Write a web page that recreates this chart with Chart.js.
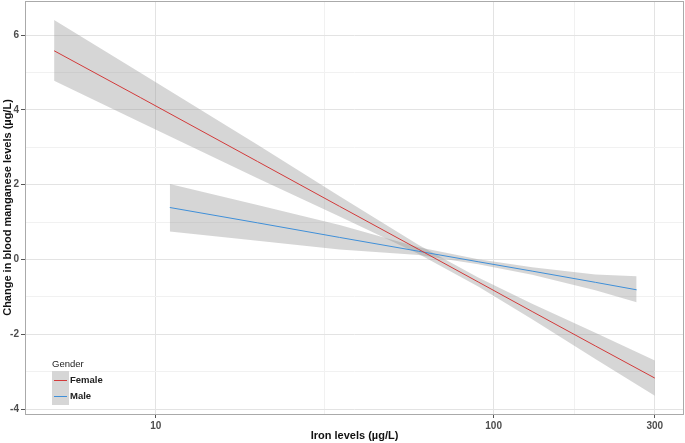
<!DOCTYPE html>
<html>
<head>
<meta charset="utf-8">
<script src="https://cdn.jsdelivr.net/npm/chart.js@4"></script>
<style>
  html, body { margin: 0; padding: 0; background: #fff; }
  #wrap { width: 685px; height: 443px; }
</style>
</head>
<body>
<div id="wrap"><canvas id="myChart" width="685" height="443"></canvas></div>
<script>
// Iron levels (x, log scale) where the fitted lines / bands were read
const femaleIron = [5, 9, 20, 35, 60, 90, 130, 200, 300];
const femaleFit = [5.58, 4.33, 2.62, 1.42, 0.27, -0.60, -1.39, -2.31, -3.17];
const femaleLow = [4.78, 3.67, 2.17, 1.15, 0.15, -0.72, -1.60, -2.66, -3.64];
const femaleHigh = [6.40, 4.99, 3.07, 1.69, 0.39, -0.48, -1.18, -1.96, -2.70];

const maleIron = [11, 20, 35, 60, 90, 130, 200, 265];
const maleFit = [1.39, 0.98, 0.59, 0.22, -0.06, -0.31, -0.61, -0.81];
const maleLow = [0.75, 0.50, 0.27, 0.12, -0.13, -0.41, -0.82, -1.14];
const maleHigh = [2.02, 1.46, 0.92, 0.33, 0.01, -0.21, -0.40, -0.45];

// axis ticks (major get a label, minor only a grid line)
const xMajor = [10, 100, 300];
const xMinor = [31.62, 173.2];
const yMajor = [-4, -2, 0, 2, 4, 6];
const yMinor = [-3, -1, 1, 3, 5];

const femaleColor = '#d23a3a';
const maleColor = '#3f8fd8';
const bandColor = 'rgba(153,153,153,0.4)';

const FONT = "'Liberation Sans', Arial, sans-serif";

const pts = (xs, ys) => xs.map((x, i) => ({ x: x, y: ys[i] }));

Chart.defaults.font.family = FONT;

// panel border and the legend inside the panel, ggplot style
const extras = {
  id: 'extras',
  afterDraw(chart) {
    const c = chart.ctx;
    const a = chart.chartArea;
    c.save();
    c.strokeStyle = '#aaaaaa';
    c.lineWidth = 1;
    c.strokeRect(a.left + 0.5, a.top + 0.5, a.right - a.left - 1, a.bottom - a.top);

    c.fillStyle = '#222';
    c.font = '9.5px ' + FONT;
    c.textBaseline = 'middle';
    c.fillText('Gender', 52, 364);
    c.fillStyle = '#d6d6d6';
    c.fillRect(52, 371, 17, 34);
    const items = [['Female', femaleColor, 380], ['Male', maleColor, 396]];
    items.forEach(([name, col, y]) => {
      c.strokeStyle = col;
      c.lineWidth = 1;
      c.beginPath();
      c.moveTo(54, y + 0.5);
      c.lineTo(67, y + 0.5);
      c.stroke();
      c.fillStyle = '#222';
      c.font = 'bold 9.5px ' + FONT;
      c.fillText(name, 70, y);
    });
    c.restore();
  }
};

const ctx = document.getElementById('myChart').getContext('2d');
new Chart(ctx, {
  type: 'line',
  data: {
    datasets: [
      { data: pts(femaleIron, femaleLow), borderWidth: 0, pointRadius: 0, fill: false, order: 2 },
      { data: pts(femaleIron, femaleHigh), borderWidth: 0, pointRadius: 0, fill: '-1', backgroundColor: bandColor, order: 2 },
      { data: pts(maleIron, maleLow), borderWidth: 0, pointRadius: 0, fill: false, order: 2 },
      { data: pts(maleIron, maleHigh), borderWidth: 0, pointRadius: 0, fill: '-1', backgroundColor: bandColor, order: 2 },
      { label: 'Female', data: pts(femaleIron, femaleFit), borderColor: femaleColor, borderWidth: 1, pointRadius: 0, fill: false, order: 0 },
      { label: 'Male', data: pts(maleIron, maleFit), borderColor: maleColor, borderWidth: 1, pointRadius: 0, fill: false, order: 0 }
    ]
  },
  options: {
    responsive: false,
    animation: false,
    layout: { padding: { top: 1, right: 1, left: 0, bottom: 0 } },
    plugins: { legend: { display: false }, tooltip: { enabled: false } },
    scales: {
      x: {
        type: 'logarithmic',
        min: 4.1,
        max: 366,
        afterBuildTicks: s => { s.ticks = xMajor.concat(xMinor).sort((p, q) => p - q).map(v => ({ value: v })); },
        afterFit: s => { s.height = 29; s.paddingLeft = 0; s.paddingRight = 0; },
        ticks: {
          autoSkip: false,
          maxRotation: 0,
          padding: 2,
          color: '#4d4d4d',
          font: { size: 10, weight: 'bold' },
          callback: v => xMajor.includes(v) ? String(v) : ''
        },
        grid: {
          color: c => xMajor.includes(c.tick.value) ? '#e3e3e3' : '#f1f1f1',
          tickColor: c => xMajor.includes(c.tick.value) ? '#555' : 'rgba(0,0,0,0)',
          tickLength: 4
        },
        border: { display: false },
        title: {
          display: true,
          text: 'Iron levels (µg/L)',
          color: '#111',
          font: { size: 11, weight: 'bold' },
          padding: { top: 0, bottom: 0 }
        }
      },
      y: {
        min: -4.13,
        max: 6.91,
        afterBuildTicks: s => { s.ticks = yMajor.concat(yMinor).sort((p, q) => p - q).map(v => ({ value: v })); },
        afterFit: s => { s.width = 25; s.paddingTop = 0; s.paddingBottom = 0; },
        ticks: {
          autoSkip: false,
          padding: 2,
          color: '#4d4d4d',
          font: { size: 10, weight: 'bold' },
          callback: v => yMajor.includes(v) ? String(v) : ''
        },
        grid: {
          color: c => yMajor.includes(c.tick.value) ? '#e3e3e3' : '#f1f1f1',
          tickColor: c => yMajor.includes(c.tick.value) ? '#555' : 'rgba(0,0,0,0)',
          tickLength: 4
        },
        border: { display: false },
        title: {
          display: true,
          text: 'Change in blood manganese levels (µg/L)',
          color: '#111',
          font: { size: 11, weight: 'bold' },
          padding: { top: 1, bottom: 0 }
        }
      }
    }
  },
  plugins: [extras]
});
</script>
</body>
</html>
